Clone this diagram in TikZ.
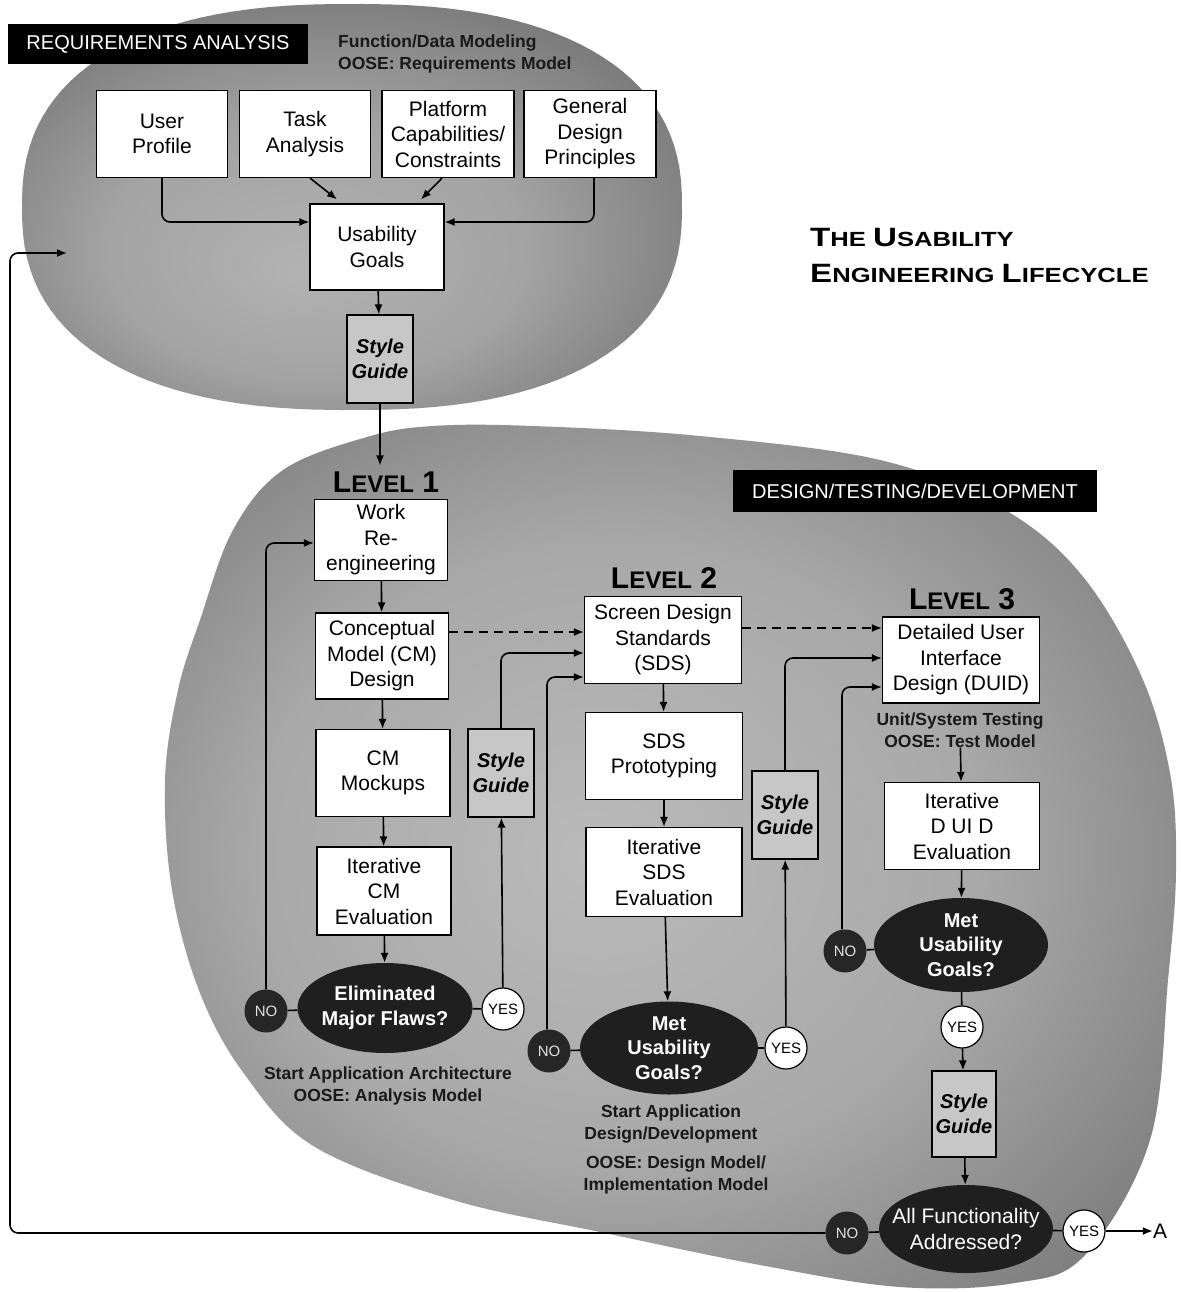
\documentclass[tikz,border=0pt]{standalone}
\usepackage{fontspec}
\setmainfont{Liberation Sans}
\usepackage{graphicx}
\usetikzlibrary{arrows.meta,shapes.geometric,calc}

% radial fills for the two phase regions: light centre, dark rim
\pgfdeclareradialshading{reqshade}{\pgfpoint{-4bp}{-8bp}}{color(0bp)=(black!30); color(16bp)=(black!36); color(33bp)=(black!55); color(50bp)=(black!80)}
\pgfdeclareradialshading{dtdshade}{\pgfpoint{-4bp}{0bp}}{color(0bp)=(black!27); color(18bp)=(black!34); color(36bp)=(black!55); color(50bp)=(black!82)}

\newcommand\fntbox{\fontsize{21}{25.5}\selectfont}
\newcommand\fntsg{\fontsize{20}{24.5}\selectfont\bfseries\itshape}
\newcommand\fntdec{\fontsize{20}{24.5}\selectfont\bfseries}
\newcommand\fntyn{\fontsize{15}{15}\selectfont}
\newcommand\fnttag{\fontsize{20}{20}\selectfont}
\newcommand\fntnote{\fontsize{17.5}{22}\selectfont\bfseries}
\newcommand\scbig{\fontsize{26.5}{26.5}\selectfont}
\newcommand\scsmall{\fontsize{20.5}{20.5}\selectfont}
\newcommand\lvlname[1]{{\fontsize{30}{30}\selectfont L}{\fontsize{24}{24}\selectfont EVEL}{\fontsize{30}{30}\selectfont\ #1}}

\tikzset{
  box/.style={draw, line width=1.2pt, fill=white, align=center, inner sep=0pt, font=\fntbox},
  sgbox/.style={draw, line width=1.2pt, fill=black!22, align=center, inner sep=0pt,
                minimum width=66pt, minimum height=88pt, font=\fntsg},
  decision/.style={ellipse, fill=black!88, inner sep=0pt},
  dectext/.style={text=white, align=center, font=\fntdec},
  plaintext/.style={text=white, align=center, font=\fntbox},
  nocirc/.style={circle, fill=black!85, text=black!12, inner sep=0pt, minimum size=43pt, font=\fntyn},
  yescirc/.style={circle, draw, line width=1.2pt, fill=white, inner sep=0pt, minimum size=42pt, font=\fntyn},
  tag/.style={fill=black, text=white, inner sep=0pt, font=\fnttag},
  note/.style={align=center, text=black!90, inner sep=0pt, font=\fntnote},
  lvl/.style={inner sep=0pt, font=\bfseries},
  arr/.style={-{Latex[length=10pt,width=8pt]}, line width=1.6pt},
  link/.style={line width=1.6pt},
  dasharr/.style={arr, dash pattern=on 9pt off 6pt},
}

\begin{document}
\begin{tikzpicture}[x=1pt, y=-1pt]
\path[use as bounding box, fill=white] (0,0) rectangle (1180,1292);

% ---- phase regions ----
% requirements analysis: a slightly squarish ellipse (superellipse, exponent 2.4)
\shade[shading=reqshade] plot[domain=1:361, samples=121, variable=\t]
  ({352+330*sign(cos(\t))*abs(cos(\t))^0.833}, {207+203*sign(sin(\t))*abs(sin(\t))^0.833}) -- cycle;
% design/testing/development: free-form blob
\shade[shading=dtdshade] plot[smooth cycle, tension=0.6] coordinates {
  (433,426) (533,426) (700,436) (880,460) (1000,507) (1080,573) (1140,673)
  (1170,773) (1176,870) (1168,980) (1150,1140) (1085,1255) (1015,1283)
  (900,1287) (760,1265) (600,1232) (453,1200) (315,1147) (245,1075)
  (200,993) (172,890) (165,780) (178,690) (200,620) (233,530) (283,470) (367,437)};

% ---- requirements analysis ----
\node[tag, minimum width=300pt, minimum height=40pt] (reqtag) at (158,44) {REQUIREMENTS ANALYSIS};
\node[note, anchor=west, align=left] (reqnote) at (338,54) {Function/Data Modeling\\OOSE: Requirements Model};

\node[box, minimum width=131pt, minimum height=87pt] (user) at (162,134) {User\\Profile};
\node[box, minimum width=131pt, minimum height=87pt] (task) at (305,134) {Task\\Analysis};
\node[box, minimum width=132pt, minimum height=87pt] (plat) at (448,134) {Platform\\Capabilities/\\Constraints};
\node[box, minimum width=132pt, minimum height=87pt] (gen) at (590,134) {General\\Design\\Principles};
\node[box, minimum width=134pt, minimum height=86pt] (usab) at (377,247) {Usability\\Goals};
\node[sgbox] (sg0) at (380,359) {Style\\Guide};

\coordinate (ul) at ([yshift=25pt]usab.west);
\coordinate (ur) at ([yshift=25pt]usab.east);
\draw[arr, rounded corners=8pt] (user.south) |- (ul);
\draw[arr, rounded corners=8pt] ([xshift=4pt]gen.south) |- (ur);
\draw[arr] ([xshift=5pt]task.south) -- ([xshift=-40pt,yshift=4pt]usab.north);
\draw[arr] ([xshift=-6pt]plat.south) -- ([xshift=44pt,yshift=4pt]usab.north);
\draw[arr] (usab) -- (sg0);

% ---- title ----
\node[anchor=base west, inner sep=0pt, font=\bfseries] (title1) at (810,246)
  {\scalebox{1.25}[1]{\scbig T\scsmall HE \scbig U\scsmall SABILITY}};
\node[anchor=base west, inner sep=0pt, font=\bfseries] (title2) at (810,282)
  {\scalebox{1.25}[1]{\scbig E\scsmall NGINEERING \scbig L\scsmall IFECYCLE}};

% ---- design / testing / development ----
\node[tag, minimum width=364pt, minimum height=42pt] (dtdtag) at (915,491) {DESIGN/TESTING/DEVELOPMENT};
\node[lvl] (lvl1) at (386,482) {\lvlname{1}};
\node[lvl] (lvl2) at (664,578) {\lvlname{2}};
\node[lvl] (lvl3) at (962,599) {\lvlname{3}};

\draw[arr] (sg0.south) -- ([yshift=6pt]sg0.south |- lvl1.north);

% level 1
\node[box, minimum width=133pt, minimum height=81pt] (work) at (381,540) {Work\\Re-\\engineering};
\node[box, minimum width=133pt, minimum height=86pt] (cmd) at (382,656) {Conceptual\\Model (CM)\\Design};
\node[box, minimum width=134pt, minimum height=87pt] (cmm) at (383,773) {CM\\Mockups};
\node[box, minimum width=134pt, minimum height=88pt] (icm) at (384,891) {Iterative\\CM\\Evaluation};
\node[decision, minimum width=175pt, minimum height=90pt,
      label={[dectext]center:{Eliminated\\Major Flaws?}}] (elim) at (385,1008) {};
\node[nocirc] (no1) at (266,1011) {NO};
\node[yescirc] (yes1) at (503,1009) {YES};
\node[sgbox] (sg1) at (501,773) {Style\\Guide};
\node[note] (ann1) at (388,1086) {Start Application Architecture\\OOSE: Analysis Model};

% level 2
\node[box, minimum width=157pt, minimum height=87pt] (sds) at (663,640) {Screen Design\\Standards\\(SDS)};
\node[box, minimum width=157pt, minimum height=87pt] (sdsp) at (664,756) {SDS\\Prototyping};
\node[box, minimum width=156pt, minimum height=89pt] (isds) at (664,872) {Iterative\\SDS\\Evaluation};
\node[decision, minimum width=178pt, minimum height=93pt,
      label={[dectext]center:{Met\\Usability\\Goals?}}] (met2) at (669,1048) {};
\node[nocirc] (no2) at (549,1051) {NO};
\node[yescirc] (yes2) at (786,1048) {YES};
\node[sgbox] (sg2) at (785,815) {Style\\Guide};
\node[note] (ann2) at (671,1124) {Start Application\\Design/Development};
\node[note] (ann3) at (676,1175) {OOSE: Design Model/\\Implementation Model};

% level 3
\node[box, minimum width=157pt, minimum height=86pt] (duid) at (961,660) {Detailed User\\Interface\\Design (DUID)};
\node[note] (uts) at (960,730) {Unit/System Testing\\OOSE: Test Model};
\node[box, minimum width=155pt, minimum height=87pt] (iduid) at (962,826) {Iterative\\D UI D\\Evaluation};
\node[decision, minimum width=174pt, minimum height=94pt,
      label={[dectext]center:{Met\\Usability\\Goals?}}] (met3) at (961,945) {};
\node[nocirc] (no3) at (845,951) {NO};
\node[yescirc] (yes3) at (962,1027) {YES};
\node[sgbox, minimum width=64pt, minimum height=86pt] (sg3) at (964,1114) {Style\\Guide};
\node[decision, minimum width=174pt, minimum height=88pt,
      label={[plaintext]center:{All Functionality\\Addressed?}}] (allf) at (966,1229) {};
\node[nocirc] (no4) at (847,1233) {NO};
\node[yescirc] (yes4) at (1084,1231) {YES};
\node[inner sep=0pt, font=\fntbox] (A) at (1160,1231) {A};

% ---- connectors, level 1 ----
\draw[arr] (work) -- (cmd);
\draw[arr] (cmd) -- (cmm);
\draw[arr] (cmm) -- (icm);
\draw[arr] (icm) -- (elim);
\draw[link] (no1) -- (elim);
\draw[link] (elim) -- (yes1);
\draw[arr] (yes1) -- (sg1);
\coordinate (w1) at ([yshift=-3pt]work.west);
\draw[arr, rounded corners=8pt] (no1.north) |- (w1);
\coordinate (s1) at ([yshift=-13pt]sds.west);
\draw[arr, rounded corners=8pt] (sg1.north) |- (s1);
\coordinate (d1) at ([yshift=24pt]cmd.east);
\draw[dasharr] (d1) -- (d1 -| sds.west);

% ---- connectors, level 2 ----
\draw[arr] (sds) -- (sdsp);
\draw[arr] (sdsp) -- (isds);
\draw[arr] (isds) -- (met2);
\draw[link] (no2) -- (met2);
\draw[link] (met2) -- (yes2);
\draw[arr] (yes2) -- (sg2);
\coordinate (s2) at ([yshift=-37pt]sds.west);
\draw[arr, rounded corners=8pt] ([xshift=-2pt]no2.north) |- (s2);
\coordinate (u1) at ([yshift=2pt]duid.west);
\draw[arr, rounded corners=8pt] (sg2.north) |- (u1);
\coordinate (d2) at ([yshift=12pt]sds.east);
\draw[dasharr] (d2) -- (d2 -| duid.west);

% ---- connectors, level 3 ----
\draw[arr] (uts) -- (iduid);
\draw[arr] (iduid) -- (met3);
\draw[link] (no3) -- (met3);
\draw[link] (met3) -- (yes3);
\draw[arr] (yes3) -- (sg3);
\draw[arr] (sg3) -- (allf);
\coordinate (u2) at ([yshift=-27pt]duid.west);
\draw[arr, rounded corners=8pt] ([xshift=-3pt]no3.north) |- (u2);
\draw[link] (no4) -- (allf);
\draw[link] (allf) -- (yes4);
\draw[arr] (yes4) -- (A);

% ---- return to requirements analysis ----
\coordinate (rtop) at (10,253);
\coordinate (rend) at (67,253);
\draw[arr, rounded corners=8pt] (no4.west) -| (rtop) -- (rend);
\end{tikzpicture}
\end{document}
